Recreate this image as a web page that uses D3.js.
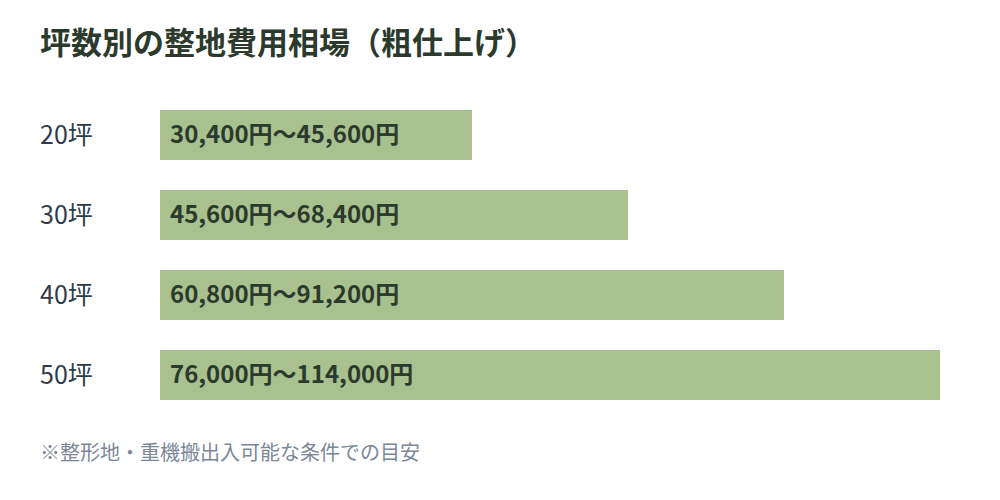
<!DOCTYPE html>
<html><head><meta charset="utf-8">
<script src="https://cdn.jsdelivr.net/npm/d3@7"></script>
<style>body{margin:0;background:#fff;}svg{display:block;font-family:"Noto Sans CJK JP","Noto Sans",sans-serif;}</style>
</head><body>
<svg id="c" width="1000" height="500"></svg>
<script>
const categories = ["20坪","30坪","40坪","50坪"];
const lowValues = [30400, 45600, 60800, 76000];
const highValues = [45600, 68400, 91200, 114000];
const title = "坪数別の整地費用相場（粗仕上げ）";
const note = "※整形地・重機搬出入可能な条件での目安";

const svg = d3.select("#c");
const fmt = d3.format(",");
const x = d3.scaleLinear().domain([0, d3.max(highValues)]).range([160, 940]);
const y = d3.scaleBand().domain(categories).range([95, 415]).paddingInner(0.375).paddingOuter(0.1875);

svg.append("text").attr("x", 40).attr("y", 54).attr("font-size", 31).attr("font-weight", 700)
  .attr("fill", "#2b3a2c").text(title);

const data = categories.map((c,i)=>({c, lo: lowValues[i], hi: highValues[i]}));
const g = svg.append("g");
g.selectAll("rect").data(data).join("rect")
  .attr("x", x(0)).attr("y", d=>y(d.c)).attr("width", d=>x(d.hi)-x(0)).attr("height", y.bandwidth())
  .attr("fill", "#a9c08f");
g.selectAll("text.cat").data(data).join("text").attr("class","cat")
  .attr("x", 40).attr("y", d=>y(d.c)+y.bandwidth()/2).attr("dy","0.35em")
  .attr("font-size", 25).attr("fill", "#2f3a4a").text(d=>d.c);
g.selectAll("text.val").data(data).join("text").attr("class","val")
  .attr("x", x(0)+10).attr("y", d=>y(d.c)+y.bandwidth()/2).attr("dy","0.35em")
  .attr("font-size", 24).attr("font-weight", 700).attr("fill", "#2b3a2c")
  .text(d=>fmt(d.lo)+"円〜"+fmt(d.hi)+"円");

svg.append("text").attr("x", 40).attr("y", 460).attr("font-size", 20).attr("fill", "#7b8797").text(note);
</script>
</body></html>
